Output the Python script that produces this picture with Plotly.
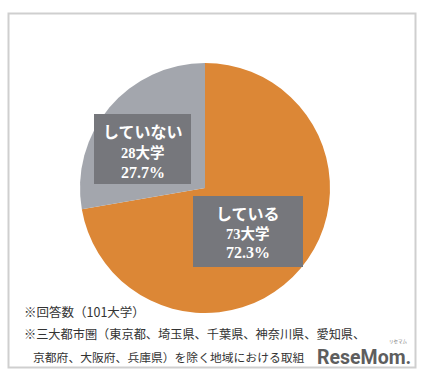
import plotly.graph_objects as go

W, H = 425, 380

categories = ["している", "していない"]
counts = [73, 28]
percents = ["72.3%", "27.7%"]
count_labels = ["73大学", "28大学"]
colors = ["#DC8736", "#A3A6AD"]
footnotes = [
    "※回答数（101大学）",
    "※三大都市圏（東京都、埼玉県、千葉県、神奈川県、愛知県、",
    "京都府、大阪府、兵庫県）を除く地域における取組",
]


def px(x):
    return x / W


def py(y):
    return 1 - y / H


fig = go.Figure()
fig.add_trace(go.Pie(
    labels=categories,
    values=counts,
    sort=False,
    direction="clockwise",
    rotation=0,
    marker=dict(colors=colors, line=dict(width=0)),
    textinfo="none",
    hoverinfo="label+value+percent",
    showlegend=False,
    domain=dict(x=[px(80), px(330)], y=[py(313), py(63)]),
))

shapes = [
    dict(type="rect", xref="paper", yref="paper",
         x0=px(8.5), x1=px(415.5), y0=py(13.5), y1=py(367.5),
         line=dict(color="#CFCFCF", width=2), fillcolor="rgba(0,0,0,0)", layer="below"),
]

boxes = {
    "していない": dict(x0=94, x1=191, y0=114, y1=184, cx=142.5, ys=[131, 152, 172]),
    "している": dict(x0=193, x1=303, y0=196, y1=267, cx=248, ys=[213, 233, 253]),
}

annotations = []
for cat, cnt, pct in zip(categories, count_labels, percents):
    b = boxes[cat]
    shapes.append(dict(type="rect", xref="paper", yref="paper",
                       x0=px(b["x0"]), x1=px(b["x1"]), y0=py(b["y1"]), y1=py(b["y0"]),
                       line=dict(width=0), fillcolor="#76777C", layer="above"))
    annotations.append(dict(xref="paper", yref="paper", x=px(b["cx"]), y=py(b["ys"][0]),
                            text="<b>" + cat + "</b>", showarrow=False,
                            font=dict(family="Noto Sans CJK JP", size=16, color="white"),
                            xanchor="center", yanchor="middle"))
    annotations.append(dict(xref="paper", yref="paper", x=px(b["cx"]), y=py(b["ys"][1]),
                            text="<b>" + cnt + "</b>", showarrow=False,
                            font=dict(family="Liberation Serif, Noto Sans CJK JP", size=14.5, color="white"),
                            xanchor="center", yanchor="middle"))
    annotations.append(dict(xref="paper", yref="paper", x=px(b["cx"]), y=py(b["ys"][2]),
                            text="<b>" + pct + "</b>", showarrow=False,
                            font=dict(family="Liberation Serif", size=16, color="white"),
                            xanchor="center", yanchor="middle"))

foot_pos = [(22, 311, 12.5), (22, 334, 12.2), (31, 356, 11.8)]
for txt, (x, y, s) in zip(footnotes, foot_pos):
    annotations.append(dict(xref="paper", yref="paper", x=px(x), y=py(y), text=txt,
                            showarrow=False, xanchor="left", yanchor="middle",
                            font=dict(family="Noto Sans CJK JP", size=s, color="#333333")))

annotations.append(dict(xref="paper", yref="paper", x=px(413), y=py(357), text="<b>ReseMom.</b>",
                        showarrow=False, xanchor="right", yanchor="middle",
                        font=dict(family="Roboto", size=19.5, color="#5E5E5E")))
annotations.append(dict(xref="paper", yref="paper", x=px(398), y=py(341), text="リセマム",
                        showarrow=False, xanchor="center", yanchor="middle",
                        font=dict(family="Noto Sans CJK JP", size=4.5, color="#777777")))

fig.update_layout(
    width=W, height=H,
    margin=dict(l=0, r=0, t=0, b=0),
    paper_bgcolor="white", plot_bgcolor="white",
    shapes=shapes,
    annotations=annotations,
)

fig.write_html("out.html")
